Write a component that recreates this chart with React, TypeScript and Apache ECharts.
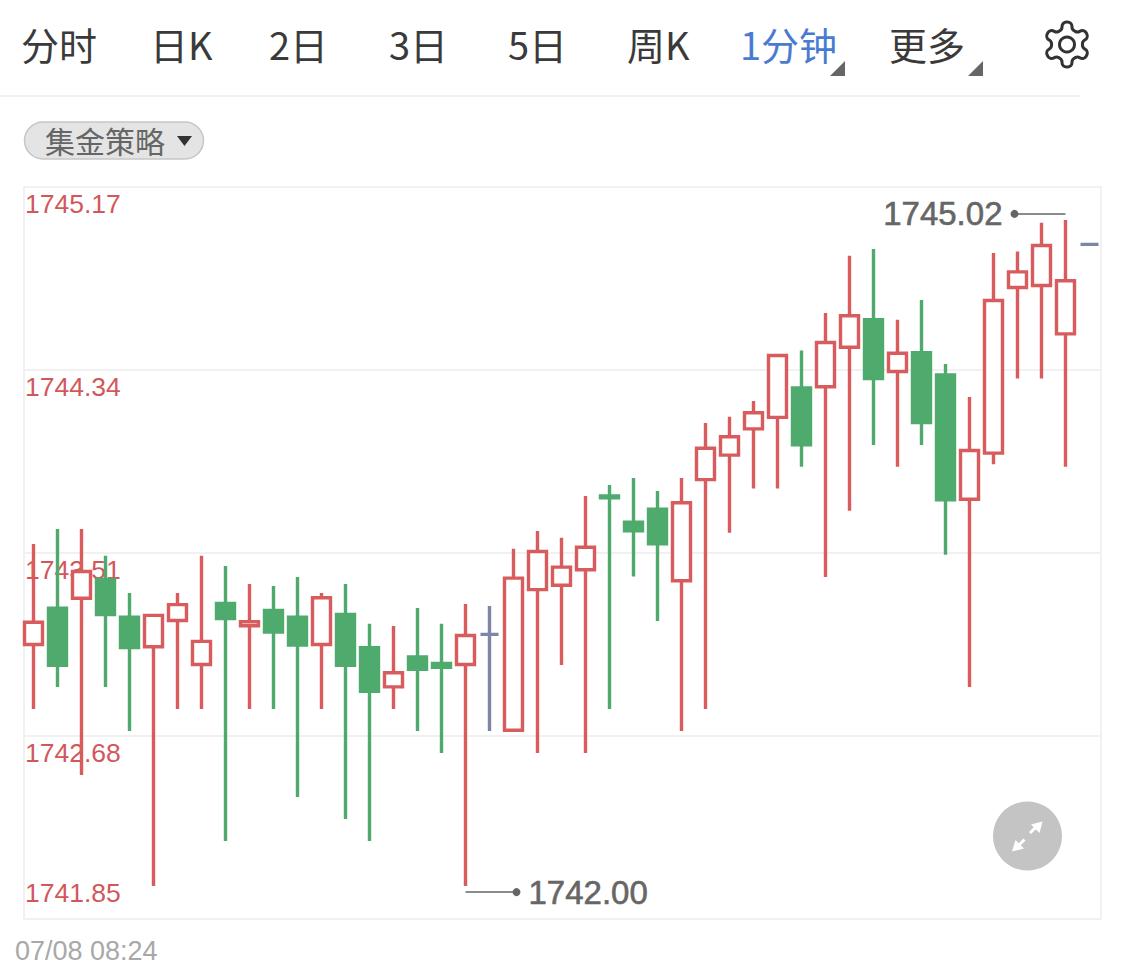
import React, { useEffect, useRef } from "react";
import * as echarts from "echarts";

const opens = [1743.095,1743.26,1743.305,1743.39,1743.219,1743.085,1743.204,1743.004,1743.281,1743.18,1743.249,1743.219,1743.095,1743.231,1743.08,1742.903,1743.039,1743.009,1743.004,1743.141,1742.706,1743.344,1743.364,1743.434,1743.769,1743.65,1743.709,1743.384,1743.843,1743.954,1744.073,1744.125,1744.259,1744.264,1744.443,1744.568,1744.333,1744.418,1744.318,1743.754,1743.963,1744.714,1744.723,1744.504,1744.91];
const closes = [1743.196,1743.001,1743.426,1743.231,1743.081,1743.227,1743.276,1743.109,1743.213,1743.198,1743.151,1743.092,1743.307,1743.001,1742.883,1742.967,1742.982,1742.992,1743.136,1743.141,1743.396,1743.517,1743.446,1743.536,1743.76,1743.611,1743.552,1743.738,1743.985,1744.037,1744.146,1744.406,1744.001,1744.465,1744.586,1744.301,1744.416,1744.102,1743.751,1743.975,1744.655,1744.785,1744.905,1744.745,1744.91];
const lows = [1742.802,1742.902,1742.503,1742.902,1742.703,1742.0,1742.802,1742.802,1742.204,1742.802,1742.802,1742.403,1742.802,1742.304,1742.204,1742.802,1742.703,1742.603,1742.0,1742.703,1742.706,1742.603,1743.002,1742.603,1742.802,1743.403,1743.202,1742.703,1742.802,1743.602,1743.802,1743.802,1743.901,1743.401,1743.702,1744.0,1743.901,1744.0,1743.502,1742.902,1743.912,1744.301,1744.301,1743.901,1744.91];
const highs = [1743.551,1743.619,1743.619,1743.498,1743.329,1743.227,1743.329,1743.498,1743.451,1743.369,1743.36,1743.401,1743.329,1743.369,1743.189,1743.179,1743.261,1743.189,1743.279,1743.27,1743.529,1743.61,1743.579,1743.769,1743.818,1743.85,1743.791,1743.85,1744.1,1744.128,1744.199,1744.406,1744.428,1744.599,1744.858,1744.889,1744.568,1744.657,1744.367,1744.218,1744.871,1744.878,1745.008,1745.02,1744.91];
const yTicks = [1741.85, 1742.68, 1743.51, 1744.34, 1745.17];
const tabLabels = ["分时", "日K", "2日", "3日", "5日", "周K", "1分钟", "更多"];
const tabLefts = [21, 150, 269, 389, 508, 627, 740, 889];
const strategyLabel = "集金策略";
const timeLabel = "07/08 08:24";

const RED = "#d85c5e";
const GREEN = "#4fab6d";
const GRAY = "#7d86a6";
const RULE = "#f1f1f1";
const LATIN = '"Liberation Sans", Arial, sans-serif';
const CJK = '"Noto Sans CJK SC", "Liberation Sans", sans-serif';
const GEAR =
  "M12.22 2h-.44a2 2 0 0 0-2 2v.18a2 2 0 0 1-1 1.73l-.43.25a2 2 0 0 1-2 0l-.15-.08a2 2 0 0 0-2.73.73l-.22.38a2 2 0 0 0 .73 2.73l.15.1a2 2 0 0 1 1 1.72v.51a2 2 0 0 1-1 1.74l-.15.09a2 2 0 0 0-.73 2.73l.22.38a2 2 0 0 0 2.73.73l.15-.08a2 2 0 0 1 2 0l.43.25a2 2 0 0 1 1 1.73V20a2 2 0 0 0 2 2h.44a2 2 0 0 0 2-2v-.18a2 2 0 0 1 1-1.73l.43-.25a2 2 0 0 1 2 0l.15.08a2 2 0 0 0 2.73-.73l.22-.39a2 2 0 0 0-.73-2.73l-.15-.08a2 2 0 0 1-1-1.74v-.5a2 2 0 0 1 1-1.74l.15-.09a2 2 0 0 0 .73-2.73l-.22-.38a2 2 0 0 0-2.73-.73l-.15.08a2 2 0 0 1-2 0l-.43-.25a2 2 0 0 1-1-1.73V4a2 2 0 0 0-2-2z";

echarts.graphic.registerShape("gearIcon", echarts.graphic.extendPath(GEAR, {}));

function App() {
  const ref = useRef<HTMLDivElement>(null);
  useEffect(() => {
    const chart = echarts.init(ref.current!, undefined, { renderer: "svg" });
    const candles = opens.map((o, i) => [i, o, closes[i], lows[i], highs[i]]);
    const maxHigh = Math.max(...highs);
    const minLow = Math.min(...lows);
    const maxIdx = highs.indexOf(maxHigh);
    const minIdx = lows.lastIndexOf(minLow);
    const annotation = (idx: number, dotIdx: number, y: number, text: string, pos: string) => ({
      type: "line",
      silent: true,
      showAllSymbol: true,
      z: 5,
      lineStyle: { color: "#666", width: 1.5 },
      itemStyle: { color: "#666" },
      data: [
        { value: [idx, y], symbol: "none" },
        {
          value: [dotIdx, y],
          symbol: "circle",
          symbolSize: 8,
          label: {
            show: true,
            position: pos,
            distance: 8,
            formatter: text,
            color: "#666",
            fontSize: 33,
            fontFamily: LATIN,
            textBorderColor: "#666",
            textBorderWidth: 0.6,
          },
        },
      ],
    });
    const tabs = tabLabels.map((t, i) => ({
      type: "text",
      x: tabLefts[i],
      y: 43,
      style: {
        text: t,
        fontSize: 38,
        fontFamily: CJK,
        fill: t === "1分钟" ? "#4a7bd0" : "#3a3a3a",
        verticalAlign: "middle",
        align: "left",
      },
    }));
    chart.setOption({
      animation: false,
      backgroundColor: "#fff",
      grid: {
        show: true,
        left: 24,
        right: 24,
        top: 187,
        bottom: 53,
        borderColor: RULE,
        borderWidth: 2,
        backgroundColor: "transparent",
      },
      xAxis: { type: "value", min: -0.3958, max: 44.4792, show: false },
      yAxis: {
        type: "value",
        min: yTicks[0],
        max: yTicks[yTicks.length - 1],
        axisLine: { show: false },
        axisTick: { show: false, customValues: yTicks },
        splitLine: { show: true, lineStyle: { color: RULE, width: 2 } },
        axisLabel: {
          inside: true,
          customValues: yTicks,
          showMinLabel: true,
          showMaxLabel: true,
          margin: 1,
          color: "#d2575b",
          fontSize: 26.5,
          fontFamily: LATIN,
          verticalAlign: "top",
          verticalAlignMinLabel: "bottom",
          verticalAlignMaxLabel: "top",
          padding: [3, 0, 13, 0],
          formatter: (v: number) => v.toFixed(2),
        },
      },
      series: [
        {
          type: "candlestick",
          barWidth: 18,
          z: 3,
          encode: { x: 0, y: [1, 2, 3, 4] },
          itemStyle: {
            color: "#fff",
            color0: GREEN,
            borderColor: RED,
            borderColor0: GREEN,
            borderColorDoji: GRAY,
            borderWidth: 3.4,
          },
          data: candles,
        },
        annotation(maxIdx, maxIdx - 2.125, maxHigh + 0.028, maxHigh.toFixed(2), "left"),
        annotation(minIdx, minIdx + 2.125, minLow - 0.028, minLow.toFixed(2), "right"),
      ],
      graphic: [
        ...tabs,
        { type: "polygon", shape: { points: [[845, 61], [845, 76], [830, 76]] }, style: { fill: "#666" } },
        { type: "polygon", shape: { points: [[983, 61], [983, 76], [968, 76]] }, style: { fill: "#666" } },
        {
          type: "gearIcon",
          x: 1040,
          y: 17.5,
          scaleX: 2.25,
          scaleY: 2.25,
          style: { fill: "transparent", stroke: "#333", lineWidth: 1.35 },
        },
        {
          type: "circle",
          shape: { cx: 1067, cy: 44.5, r: 7.5 },
          style: { fill: "transparent", stroke: "#333", lineWidth: 3 },
        },
        { type: "line", shape: { x1: 0, y1: 96, x2: 1080, y2: 96 }, style: { stroke: RULE, lineWidth: 2 } },
        {
          type: "rect",
          shape: { x: 24.5, y: 122, width: 179, height: 37, r: 18.5 },
          style: { fill: "#e4e4e4", stroke: "#c6c6c6", lineWidth: 1.5 },
        },
        {
          type: "text",
          x: 45,
          y: 139.5,
          style: { text: strategyLabel, fontSize: 30, fontFamily: CJK, fill: "#666", verticalAlign: "middle" },
        },
        { type: "polygon", shape: { points: [[177, 136], [192, 136], [184.5, 146]] }, style: { fill: "#333" } },
        {
          type: "text",
          x: 15,
          y: 951,
          style: { text: timeLabel, fontSize: 27, fontFamily: LATIN, fill: "#a8a8a8", verticalAlign: "middle" },
        },
        { type: "circle", shape: { cx: 1027.5, cy: 836, r: 34.5 }, style: { fill: "#c4c4c4" } },
        { type: "polygon", shape: { points: [[1042.5, 821.5], [1031, 824.5], [1039.5, 833]] }, style: { fill: "#fff" } },
        { type: "line", shape: { x1: 1030, y1: 833, x2: 1037, y2: 826 }, style: { stroke: "#fff", lineWidth: 3 } },
        { type: "polygon", shape: { points: [[1012, 851.5], [1015.5, 840], [1024, 848.5]] }, style: { fill: "#fff" } },
        { type: "line", shape: { x1: 1024.5, y1: 839.5, x2: 1018, y2: 846 }, style: { stroke: "#fff", lineWidth: 3 } },
      ],
    });
    return () => chart.dispose();
  }, []);
  return <div ref={ref} style={{ position: "fixed", left: 0, top: 0, width: 1125, height: 972 }} />;
}

export default App;
